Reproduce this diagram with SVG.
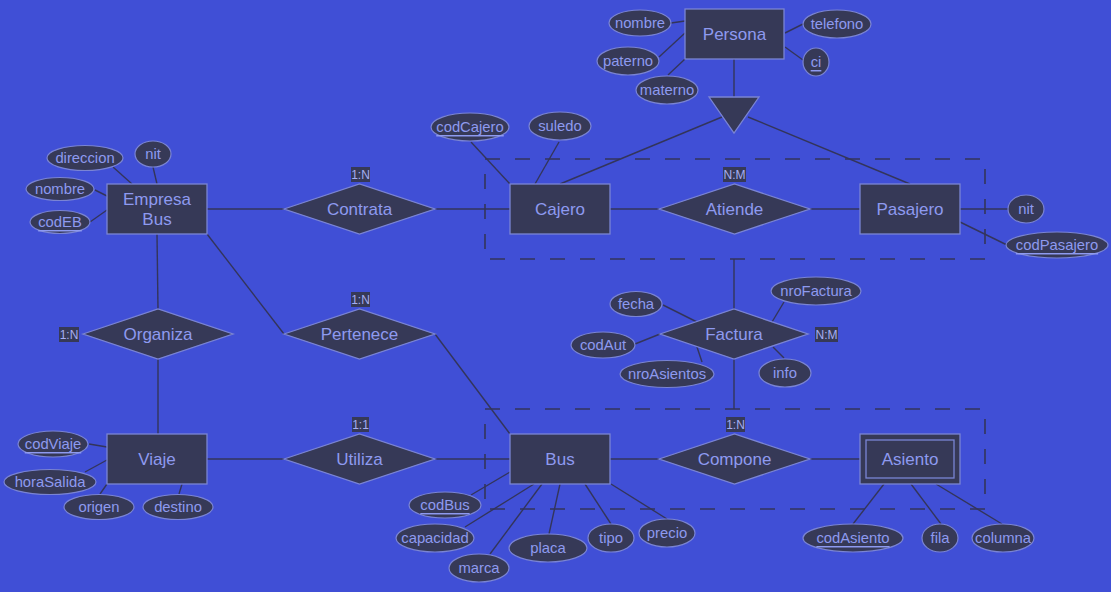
<svg xmlns="http://www.w3.org/2000/svg" width="1111" height="592" viewBox="0 0 1111 592">
<style>
.bg{fill:#404fd6}
.ent{fill:#363957;stroke:#7a84d4;stroke-width:1.3}
.att{fill:#363957;stroke:#7a84d4;stroke-width:1.2}
.rel{fill:#363957;stroke:#7a84d4;stroke-width:1.3}
.t{font-family:"Liberation Sans",Arial,sans-serif;fill:#8e9af0;text-anchor:middle;dominant-baseline:central}
.e{font-size:17px}
.a{font-size:14.8px}
.u{text-decoration:underline}
.lb{fill:#363957}
.l{font-size:12px;fill:#a6aef2}
.c line,.c polyline{stroke:#33355a;stroke-width:1.4;fill:none}
.dash{fill:none;stroke:#33355a;stroke-width:1.6;stroke-dasharray:15 15}
</style>
<rect class="bg" x="0" y="0" width="1111" height="592"/>

<g id="aggregations">
<rect class="dash" x="485" y="159" width="500" height="100"/>
<rect class="dash" x="485" y="409" width="500" height="100"/>
</g>

<g class="c" id="connectors">
<line x1="671" y1="23" x2="685" y2="21"/>
<line x1="659" y1="57" x2="685" y2="33"/>
<line x1="668" y1="75" x2="685" y2="59"/>
<line x1="785" y1="33" x2="803" y2="24"/>
<line x1="785" y1="47" x2="803" y2="60"/>
<line x1="734" y1="59" x2="734" y2="97"/>
<line x1="722" y1="117" x2="560" y2="184"/>
<line x1="748" y1="117" x2="910" y2="184"/>
<line x1="113" y1="167" x2="132" y2="184"/>
<line x1="153" y1="167" x2="157" y2="184"/>
<line x1="95" y1="190" x2="107" y2="196"/>
<line x1="90" y1="222" x2="107" y2="210"/>
<line x1="207" y1="209" x2="284" y2="209"/>
<line x1="435" y1="209" x2="510" y2="209"/>
<line x1="157" y1="234" x2="158" y2="309"/>
<line x1="158" y1="359" x2="158" y2="434"/>
<line x1="207" y1="234" x2="284" y2="334"/>
<line x1="435" y1="334" x2="510" y2="434"/>
<line x1="471" y1="142" x2="510" y2="184"/>
<line x1="559" y1="142" x2="535" y2="184"/>
<line x1="610" y1="209" x2="659" y2="209"/>
<line x1="810" y1="209" x2="860" y2="209"/>
<line x1="960" y1="209" x2="1008" y2="209"/>
<line x1="960" y1="222" x2="1007" y2="245"/>
<line x1="734" y1="259" x2="734" y2="309"/>
<line x1="734" y1="359" x2="734" y2="409"/>
<line x1="663" y1="305" x2="697" y2="322"/>
<line x1="784" y1="302" x2="772" y2="322"/>
<line x1="635" y1="344" x2="660" y2="334"/>
<line x1="702" y1="362" x2="697" y2="347"/>
<line x1="784" y1="358" x2="773" y2="347"/>
<line x1="89" y1="444" x2="107" y2="447"/>
<line x1="85" y1="472" x2="107" y2="460"/>
<line x1="100" y1="494" x2="107" y2="484"/>
<line x1="179" y1="494" x2="182" y2="484"/>
<line x1="207" y1="459" x2="284" y2="459"/>
<line x1="435" y1="459" x2="510" y2="459"/>
<line x1="471" y1="495" x2="510" y2="472"/>
<line x1="465" y1="527" x2="534" y2="484"/>
<line x1="490" y1="554" x2="542" y2="484"/>
<line x1="549" y1="534" x2="560" y2="484"/>
<line x1="611" y1="524" x2="585" y2="484"/>
<line x1="667" y1="519" x2="611" y2="484"/>
<line x1="610" y1="459" x2="659" y2="459"/>
<line x1="810" y1="459" x2="860" y2="459"/>
<line x1="853" y1="524" x2="884" y2="484"/>
<line x1="941" y1="524" x2="911" y2="484"/>
<line x1="1002" y1="524" x2="936" y2="484"/>
</g>

<g id="persona">
<rect class="ent" x="685" y="9" width="99" height="50"/>
<text class="t e" x="734.5" y="34">Persona</text>
</g>
<g id="persona-attrs">
<ellipse class="att" cx="640" cy="23" rx="31" ry="13"/><text class="t a" x="640" y="23">nombre</text>
<ellipse class="att" cx="628" cy="61" rx="31" ry="14"/><text class="t a" x="628" y="61">paterno</text>
<ellipse class="att" cx="667" cy="90" rx="31" ry="14"/><text class="t a" x="667" y="90">materno</text>
<ellipse class="att" cx="837" cy="24" rx="34" ry="14"/><text class="t a" x="837" y="24">telefono</text>
<ellipse class="att" cx="816" cy="62" rx="13" ry="14"/><text class="t a u" x="816" y="62">ci</text>
</g>
<g id="isa">
<polygon class="rel" points="709,97 759,97 734,133"/>
</g>

<g id="empresa-bus">
<rect class="ent" x="107" y="184" width="100" height="50"/>
<text class="t e" x="157" y="199">Empresa</text>
<text class="t e" x="157" y="219">Bus</text>
</g>
<g id="empresa-attrs">
<ellipse class="att" cx="85" cy="158" rx="38" ry="12.5"/><text class="t a" x="85" y="158">direccion</text>
<ellipse class="att" cx="153" cy="154" rx="18" ry="13"/><text class="t a" x="153" y="154">nit</text>
<ellipse class="att" cx="60" cy="189" rx="34" ry="11.5"/><text class="t a" x="60" y="189">nombre</text>
<ellipse class="att" cx="60" cy="222" rx="30" ry="11.5"/><text class="t a u" x="60" y="222">codEB</text>
</g>

<g id="contrata">
<polygon class="rel" points="284,209 359.5,184 435,209 359.5,234"/>
<text class="t e" x="359.5" y="209">Contrata</text>
<rect class="lb" x="351" y="167" width="19" height="15"/>
<text class="t l" x="360.5" y="174.5">1:N</text>
</g>

<g id="cajero">
<rect class="ent" x="510" y="184" width="100" height="50"/>
<text class="t e" x="560" y="209">Cajero</text>
</g>
<g id="cajero-attrs">
<ellipse class="att" cx="470" cy="127" rx="39" ry="14"/><text class="t a u" x="470" y="127">codCajero</text>
<ellipse class="att" cx="560" cy="126" rx="31" ry="14"/><text class="t a" x="560" y="126">suledo</text>
</g>

<g id="atiende">
<polygon class="rel" points="659,209 734.5,184 810,209 734.5,234"/>
<text class="t e" x="734.5" y="209">Atiende</text>
<rect class="lb" x="723" y="167" width="23" height="15"/>
<text class="t l" x="734.5" y="174.5">N:M</text>
</g>

<g id="pasajero">
<rect class="ent" x="860" y="184" width="100" height="50"/>
<text class="t e" x="910" y="209">Pasajero</text>
</g>
<g id="pasajero-attrs">
<ellipse class="att" cx="1026" cy="209" rx="18" ry="14"/><text class="t a" x="1026" y="209">nit</text>
<ellipse class="att" cx="1057" cy="245" rx="51" ry="13"/><text class="t a u" x="1057" y="245">codPasajero</text>
</g>

<g id="factura">
<polygon class="rel" points="660,334 734,309 808,334 734,359"/>
<text class="t e" x="734" y="334">Factura</text>
<rect class="lb" x="815" y="327" width="23" height="15"/>
<text class="t l" x="826.5" y="334.5">N:M</text>
</g>
<g id="factura-attrs">
<ellipse class="att" cx="636" cy="304" rx="26" ry="12.5"/><text class="t a" x="636" y="304">fecha</text>
<ellipse class="att" cx="816" cy="291" rx="45" ry="14"/><text class="t a" x="816" y="291">nroFactura</text>
<ellipse class="att" cx="603" cy="345" rx="32" ry="13"/><text class="t a" x="603" y="345">codAut</text>
<ellipse class="att" cx="667" cy="374" rx="47" ry="13.5"/><text class="t a" x="667" y="374">nroAsientos</text>
<ellipse class="att" cx="785" cy="373" rx="26" ry="14"/><text class="t a" x="785" y="373">info</text>
</g>

<g id="organiza">
<polygon class="rel" points="83,334 158,309 233,334 158,359"/>
<text class="t e" x="158" y="334">Organiza</text>
<rect class="lb" x="59" y="327" width="20" height="15"/>
<text class="t l" x="69" y="334.5">1:N</text>
</g>

<g id="pertenece">
<polygon class="rel" points="284,334 359.5,309 435,334 359.5,359"/>
<text class="t e" x="359.5" y="334">Pertenece</text>
<rect class="lb" x="351" y="292" width="19" height="15"/>
<text class="t l" x="360.5" y="299.5">1:N</text>
</g>

<g id="viaje">
<rect class="ent" x="107" y="434" width="100" height="50"/>
<text class="t e" x="157" y="459">Viaje</text>
</g>
<g id="viaje-attrs">
<ellipse class="att" cx="53" cy="444" rx="35" ry="13"/><text class="t a u" x="53" y="444">codViaje</text>
<ellipse class="att" cx="50" cy="482" rx="46" ry="12.5"/><text class="t a" x="50" y="482">horaSalida</text>
<ellipse class="att" cx="99" cy="507" rx="35" ry="12.5"/><text class="t a" x="99" y="507">origen</text>
<ellipse class="att" cx="178" cy="507" rx="35" ry="12.5"/><text class="t a" x="178" y="507">destino</text>
</g>

<g id="utiliza">
<polygon class="rel" points="284,459 359.5,434 435,459 359.5,484"/>
<text class="t e" x="359.5" y="459">Utiliza</text>
<rect class="lb" x="352" y="417" width="17" height="15"/>
<text class="t l" x="360.5" y="424.5">1:1</text>
</g>

<g id="bus">
<rect class="ent" x="510" y="434" width="100" height="50"/>
<text class="t e" x="560" y="459">Bus</text>
</g>
<g id="bus-attrs">
<ellipse class="att" cx="445" cy="505" rx="36" ry="13"/><text class="t a u" x="445" y="505">codBus</text>
<ellipse class="att" cx="435" cy="538" rx="39" ry="14"/><text class="t a" x="435" y="538">capacidad</text>
<ellipse class="att" cx="479" cy="568" rx="30" ry="14"/><text class="t a" x="479" y="568">marca</text>
<ellipse class="att" cx="548" cy="548" rx="39" ry="14"/><text class="t a" x="548" y="548">placa</text>
<ellipse class="att" cx="611" cy="538" rx="23" ry="14"/><text class="t a" x="611" y="538">tipo</text>
<ellipse class="att" cx="667" cy="533" rx="28" ry="14"/><text class="t a" x="667" y="533">precio</text>
</g>

<g id="compone">
<polygon class="rel" points="659,459 734.5,434 810,459 734.5,484"/>
<text class="t e" x="734.5" y="459">Compone</text>
<rect class="lb" x="726" y="417" width="19" height="15"/>
<text class="t l" x="735.5" y="424.5">1:N</text>
</g>

<g id="asiento">
<rect class="ent" x="860" y="434" width="100" height="50"/>
<rect class="ent" x="866" y="440" width="88" height="38"/>
<text class="t e" x="910" y="459">Asiento</text>
</g>
<g id="asiento-attrs">
<ellipse class="att" cx="853" cy="538" rx="50" ry="14"/><text class="t a u" x="853" y="538">codAsiento</text>
<ellipse class="att" cx="940" cy="538" rx="18" ry="14"/><text class="t a" x="940" y="538">fila</text>
<ellipse class="att" cx="1003" cy="538" rx="31" ry="14"/><text class="t a" x="1003" y="538">columna</text>
</g>
</svg>
